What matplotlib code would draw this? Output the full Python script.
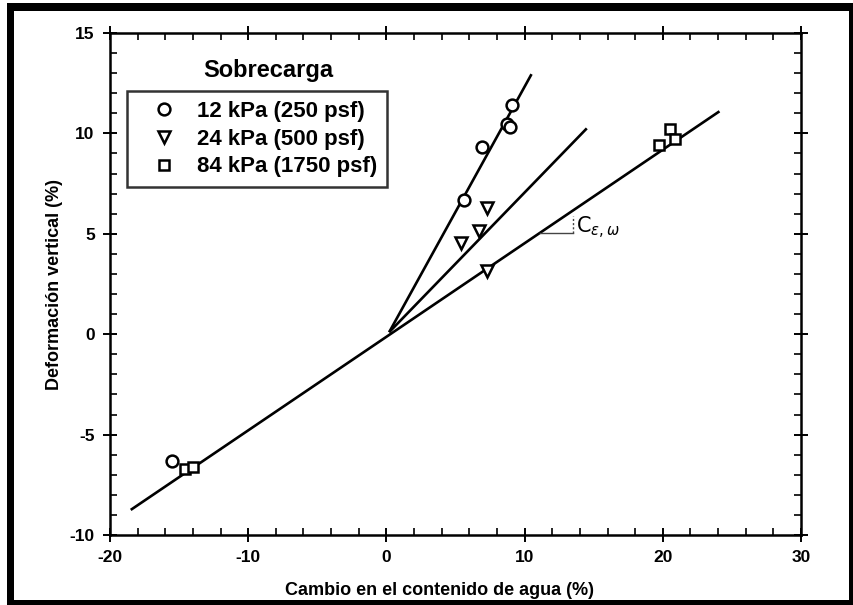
import matplotlib
matplotlib.use("Agg")
import matplotlib.pyplot as plt
from matplotlib.patches import Rectangle
from matplotlib.ticker import MultipleLocator

plt.rcParams['font.family'] = ['Liberation Sans', 'DejaVu Sans']
plt.rcParams['axes.unicode_minus'] = False

# ---- data ----
series_labels = ["12 kPa (250 psf)", "24 kPa (500 psf)", "84 kPa (1750 psf)"]
series_markers = ["o", "v", "s"]

x_12kpa = [5.6, 6.9, 8.7, 8.95, 9.1, -15.5]
y_12kpa = [6.7, 9.33, 10.45, 10.33, 11.4, -6.3]

x_24kpa = [5.4, 6.7, 7.3, 7.3]
y_24kpa = [4.53, 5.13, 6.3, 3.17]

x_84kpa = [19.7, 20.55, 20.9, -14.55, -14.0]
y_84kpa = [9.42, 10.21, 9.71, -6.72, -6.62]

fit1_x = [0.2, 10.5]
fit1_y = [0.1, 12.95]
fit2_x = [0.2, 14.5]
fit2_y = [0.1, 10.25]
fit3_x = [-18.5, 24.1]
fit3_y = [-8.75, 11.1]

x_ticks = [-20, -10, 0, 10, 20, 30]
y_ticks = [-10, -5, 0, 5, 10, 15]

W, H = 854, 605
fig = plt.figure(figsize=(W / 100, H / 100), dpi=100)
ax = fig.add_axes([110 / W, 1 - 535 / H, (801 - 110) / W, (535 - 33) / H])

ax.set_xlim(-20, 30)
ax.set_ylim(-10, 15)

lw = 1.9
for fx, fy in [(fit1_x, fit1_y), (fit2_x, fit2_y), (fit3_x, fit3_y)]:
    ax.plot(fx, fy, color="black", lw=lw, solid_capstyle="butt", zorder=2)

handles = []
for xs, ys, m, lab, ms in [(x_12kpa, y_12kpa, series_markers[0], series_labels[0], 8.5),
                           (x_24kpa, y_24kpa, series_markers[1], series_labels[1], 8),
                           (x_84kpa, y_84kpa, series_markers[2], series_labels[2], 7.5)]:
    h, = ax.plot(xs, ys, linestyle="none", marker=m, markersize=ms,
                 markerfacecolor="white", markeredgecolor="black",
                 markeredgewidth=1.8, label=lab, zorder=3)
    handles.append(h)

# slope annotation
ax.plot([11.1, 13.5], [5.05, 5.05], color="#444444", lw=1.0, zorder=2)
ax.plot([13.5, 13.5], [5.05, 5.9], color="#444444", lw=1.0, ls=(0, (1.5, 1.5)), zorder=2)
ax.text(13.75, 5.3, r"$\mathrm{C}_{\varepsilon,\omega}$", fontsize=15,
        va="center", ha="left")

# ticks
ax.set_xticks(x_ticks)
ax.set_yticks(y_ticks)
ax.xaxis.set_minor_locator(MultipleLocator(2))
ax.yaxis.set_minor_locator(MultipleLocator(1))
ax.tick_params(which="major", direction="inout", length=10, width=1.4,
               top=True, right=True, labelsize=12.5, pad=6)
ax.tick_params(which="minor", direction="in", length=5, width=1.2,
               top=True, right=True)
for lbl in ax.get_xticklabels() + ax.get_yticklabels():
    lbl.set_fontweight("bold")
for sp in ax.spines.values():
    sp.set_linewidth(1.8)

ax.set_xlabel("Cambio en el contenido de agua (%)", fontsize=13, fontweight="bold")
ax.set_ylabel("Deformación vertical (%)", fontsize=13, fontweight="bold")
ax.xaxis.set_label_coords((440 - 110) / 691, (535 - 582) / 502)
ax.yaxis.set_label_coords((63 - 110) / 691, 0.5)

# legend
leg = ax.legend(handles=handles, loc="upper left",
                bbox_to_anchor=((127 - 110) / 691, (535 - 91) / 502),
                borderaxespad=0, frameon=True, fancybox=False,
                prop={"size": 16, "weight": "bold"},
                borderpad=0.45, handlelength=2.4, handletextpad=0.3,
                labelspacing=0.3)
leg.get_frame().set_edgecolor("black")
leg.get_frame().set_linewidth(1.8)

ax.text((268 - 110) / 691, (535 - 70) / 502, "Sobrecarga", transform=ax.transAxes,
        fontsize=17, fontweight="bold", ha="center", va="center")

# figure border
def bar(x0, y0, x1, y1):
    fig.add_artist(Rectangle((x0 / W, 1 - y1 / H), (x1 - x0) / W, (y1 - y0) / H,
                             transform=fig.transFigure, facecolor="black",
                             edgecolor="none"))
bar(7, 3, 854, 11)      # top
bar(7, 600, 854, 605)   # bottom
bar(7, 3, 14, 605)      # left
bar(849, 3, 854, 605)   # right

fig.savefig("out.png", dpi=100)
